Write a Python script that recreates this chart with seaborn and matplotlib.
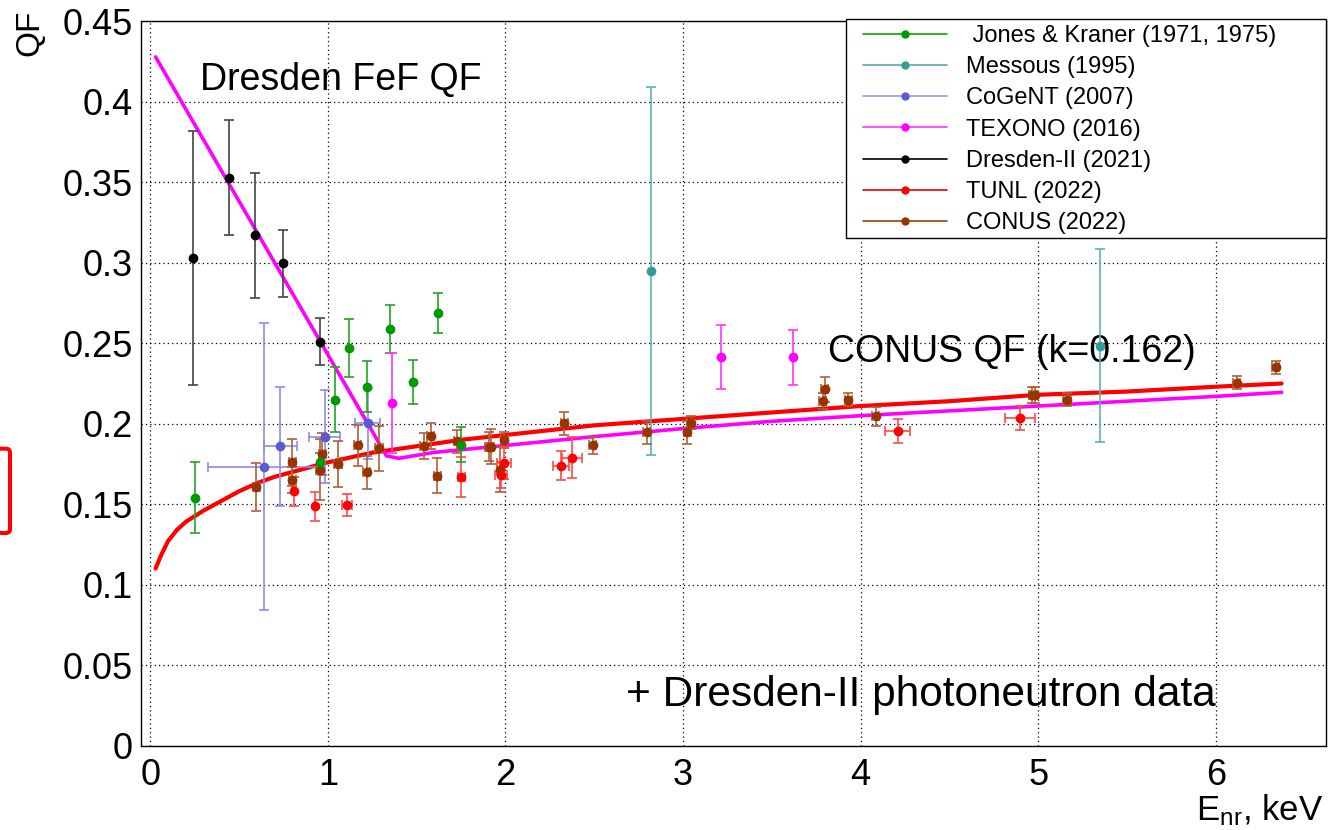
import numpy as np
import matplotlib
matplotlib.use("Agg")
import matplotlib.pyplot as plt
import seaborn as sns
from matplotlib.lines import Line2D
from matplotlib.patches import Rectangle, FancyBboxPatch
from matplotlib.ticker import MultipleLocator, FixedLocator

# ---- data ----
# Jones & Kraner (1971, 1975)
jk_x = [0.25, 0.955, 1.04, 1.12, 1.22, 1.35, 1.48, 1.62, 1.75]
jk_y = [0.154, 0.176, 0.215, 0.247, 0.223, 0.259, 0.226, 0.269, 0.187]
jk_ey = [0.022, 0.006, 0.020, 0.018, 0.016, 0.015, 0.0135, 0.0125, 0.011]

# Messous (1995)
me_x = [2.82, 5.35]
me_y = [0.295, 0.2485]
me_ey = [0.1145, 0.060]

# CoGeNT (2007)
cg_x = [0.643, 0.733, 0.983, 1.224]
cg_y = [0.1733, 0.186, 0.192, 0.2002]
cg_ey = [0.089, 0.037, 0.029, 0.022]
cg_ex = [0.32, 0.092, 0.087, 0.072]

# TEXONO (2016)
tx_x = [1.359, 3.215, 3.619]
tx_y = [0.2127, 0.2413, 0.2413]
tx_ey = [0.031, 0.020, 0.017]

# Dresden-II (2021)
dr_x = [0.24, 0.446, 0.59, 0.748, 0.957]
dr_y = [0.303, 0.353, 0.317, 0.2996, 0.251]
dr_ey = [0.079, 0.036, 0.039, 0.021, 0.0145]

# TUNL (2022)
tu_x = [0.808, 0.929, 1.107, 1.752, 1.974, 1.993, 2.312, 2.375, 4.208, 4.897]
tu_y = [0.158, 0.1488, 0.1494, 0.1667, 0.168, 0.1755, 0.174, 0.179, 0.1956, 0.2034]
tu_ey = [0.009, 0.009, 0.007, 0.0125, 0.008, 0.010, 0.009, 0.0125, 0.0075, 0.0075]
tu_ex = [0.0, 0.0, 0.03, 0.02, 0.035, 0.04, 0.045, 0.055, 0.07, 0.085]

# CONUS (2022)
cn_x = [0.596, 0.799, 0.799, 0.955, 0.968, 1.057, 1.169, 1.22, 1.288, 1.54,
        1.579, 1.617, 1.728, 1.905, 1.918, 1.97, 1.993, 2.331, 2.491, 2.796,
        3.023, 3.042, 3.786, 3.797, 3.929, 4.084, 4.967, 4.98, 5.162, 6.117, 6.336]
cn_y = [0.1606, 0.176, 0.165, 0.1715, 0.181, 0.175, 0.1865, 0.1697, 0.1846, 0.186,
        0.1923, 0.1677, 0.189, 0.1857, 0.1857, 0.1715, 0.190, 0.2002, 0.1865, 0.1946,
        0.1946, 0.2006, 0.2139, 0.2213, 0.215, 0.2047, 0.218, 0.218, 0.215, 0.2254, 0.235]
cn_ey = [0.015, 0.0145, 0.008, 0.019, 0.013, 0.0145, 0.013, 0.010, 0.014, 0.008,
         0.008, 0.011, 0.007, 0.009, 0.011, 0.014, 0.005, 0.007, 0.0055, 0.007,
         0.0073, 0.004, 0.005, 0.008, 0.004, 0.006, 0.005, 0.005, 0.004, 0.004, 0.004]
cn_ex = 0.02

# CONUS QF (k=0.162) curve
conus_qf_x = [0.03, 0.06, 0.10, 0.15, 0.20, 0.30, 0.40, 0.50, 0.60, 0.70, 0.80, 1.00,
              1.25, 1.50, 1.75, 2.00, 2.50, 3.00, 3.50, 4.00, 4.50, 5.00, 5.50, 6.00, 6.37]
conus_qf_y = [0.110, 0.118, 0.127, 0.134, 0.139, 0.146, 0.152, 0.158, 0.163, 0.167, 0.170, 0.176,
              0.182, 0.186, 0.190, 0.193, 0.199, 0.203, 0.207, 0.211, 0.214, 0.218, 0.220, 0.223, 0.225]

# Dresden FeF QF curve
fef_qf_x = [0.03, 1.33, 1.40, 1.60, 2.00, 2.50, 3.00, 3.50, 4.00, 4.50, 5.00, 5.50, 6.00, 6.37]
fef_qf_y = [0.428, 0.180, 0.1785, 0.1822, 0.1865, 0.192, 0.197, 0.2015, 0.205, 0.208,
            0.211, 0.214, 0.217, 0.2195]

y_ticks = [0, 0.05, 0.1, 0.15, 0.2, 0.25, 0.3, 0.35, 0.4, 0.45]
y_ticklabels = ["0", "0.05", "0.1", "0.15", "0.2", "0.25", "0.3", "0.35", "0.4", "0.45"]
x_ticks = [0, 1, 2, 3, 4, 5, 6]

# ---- style ----
sns.set_theme(style="white")
plt.rcParams["font.family"] = ["Liberation Sans", "DejaVu Sans"]
plt.rcParams["mathtext.fontset"] = "custom"
plt.rcParams["mathtext.rm"] = "Liberation Sans"
plt.rcParams["mathtext.it"] = "Liberation Sans"
plt.rcParams["text.color"] = "black"
plt.rcParams["axes.labelcolor"] = "black"
plt.rcParams["xtick.color"] = "black"
plt.rcParams["ytick.color"] = "black"

W, H = 1333, 830
fig = plt.figure(figsize=(W / 100, H / 100), dpi=100)
fig.patch.set_facecolor("white")
ax = fig.add_axes([141 / W, 1 - 745.5 / H, (1326 - 141) / W, (745.5 - 21.5) / H])
ax.set_facecolor("white")

# curves
sns.lineplot(x=conus_qf_x, y=conus_qf_y, sort=False, estimator=None, ax=ax,
             color="#ff0000", lw=3.0, zorder=3)
sns.lineplot(x=fef_qf_x, y=fef_qf_y, sort=False, estimator=None, ax=ax,
             color="#ff00ff", lw=2.6, zorder=3)

eb = dict(fmt="o", ms=6, elinewidth=1.2, capsize=3.5, capthick=1.2, zorder=4)
ax.errorbar(cg_x, cg_y, yerr=cg_ey, xerr=cg_ex, color="#5a5ad8", ecolor="#8c8ce8", **eb)
ax.errorbar(me_x, me_y, yerr=me_ey, color="#339b9b", ecolor="#5fb0b0", **eb)
ax.errorbar(cn_x, cn_y, yerr=cn_ey, xerr=cn_ex, color="#993300", ecolor="#b0603a", **eb)
ax.errorbar(tu_x, tu_y, yerr=tu_ey, xerr=tu_ex, color="#ff0000", ecolor="#ff4848", **eb)
ax.errorbar(jk_x, jk_y, yerr=jk_ey, color="#009900", ecolor="#22a522", **eb)
ax.errorbar(tx_x, tx_y, yerr=tx_ey, color="#ff00ff", ecolor="#ff33ff", **eb)
ax.errorbar(dr_x, dr_y, yerr=dr_ey, color="#000000", ecolor="#444444", **eb)

# axes
ax.set_xlim(-0.052, 6.62)
ax.set_ylim(0, 0.45)
ax.yaxis.set_major_locator(FixedLocator(y_ticks))
ax.set_yticklabels(y_ticklabels)
ax.xaxis.set_major_locator(FixedLocator(x_ticks))
ax.set_xticklabels([str(v) for v in x_ticks])
ax.yaxis.set_minor_locator(MultipleLocator(0.01))
ax.xaxis.set_minor_locator(MultipleLocator(0.2))
ax.tick_params(axis="both", which="both", direction="in", colors="black", width=1,
               labelsize=26, top=False, right=False)
ax.tick_params(axis="y", which="major", length=26, pad=6)
ax.tick_params(axis="y", which="minor", length=13)
ax.tick_params(axis="x", which="major", length=16, pad=9)
ax.tick_params(axis="x", which="minor", length=8)
ax.grid(True, which="major", linestyle=(0, (1, 2.5)), color="black", lw=0.9)
for s in ax.spines.values():
    s.set_color("black")
    s.set_linewidth(1.0)
ax.set_xlabel("")
ax.set_ylabel("")

fig.text(30 / W, 1 - 10 / H, "QF", rotation=90, ha="center", va="top", fontsize=24)
fig.text(1323 / W, 1 - 820 / H, r"E$_{\mathrm{nr}}$, keV", ha="right", va="baseline", fontsize=25)

# annotations
ax.text(1.075, 0.4136, "Dresden FeF QF", ha="center", va="center", fontsize=27)
ax.text(4.854, 0.2446, "CONUS QF (k=0.162)", ha="center", va="center", fontsize=27)
ax.text(4.34, 0.0314, "+ Dresden-II photoneutron data", ha="center", va="center", fontsize=30.5)

# legend
leg_items = [
    (" Jones & Kraner (1971, 1975)", "#00aa00", "#009900"),
    ("Messous (1995)", "#55aaaa", "#339b9b"),
    ("CoGeNT (2007)", "#9999ee", "#5a5ad8"),
    ("TEXONO (2016)", "#ff33ff", "#ff00ff"),
    ("Dresden-II (2021)", "#000000", "#000000"),
    ("TUNL (2022)", "#ee0000", "#ff0000"),
    ("CONUS (2022)", "#a04010", "#993300"),
]
handles = [Line2D([], [], color=lc, lw=1.2, marker="o", ms=5, mfc=mc, mec=mc)
           for _, lc, mc in leg_items]
labels = [t for t, _, _ in leg_items]
frame = Rectangle((845.7 / W, 1 - 238 / H), (1326 - 845.7) / W, (238 - 19) / H,
                  transform=fig.transFigure, fill=True, facecolor="white",
                  edgecolor="black", lw=1.0, zorder=5)
fig.add_artist(frame)
leg = fig.legend(handles, labels, loc="upper left",
                 bbox_to_anchor=(862.7 / W, 1 - 25 / H), bbox_transform=fig.transFigure,
                 frameon=False, fontsize=17, handlelength=3.56, handletextpad=0.82,
                 labelspacing=0.39, borderpad=0, borderaxespad=0)
leg.set_zorder(6)

# red highlight box at left edge
fig.add_artist(FancyBboxPatch((-0.30, 2.97), 0.40, 0.843,
                              boxstyle="round,pad=0,rounding_size=0.04",
                              transform=fig.dpi_scale_trans, fill=False,
                              edgecolor="#ff0000", lw=2.9, zorder=10))

fig.savefig("out.png", dpi=100, facecolor="white")
